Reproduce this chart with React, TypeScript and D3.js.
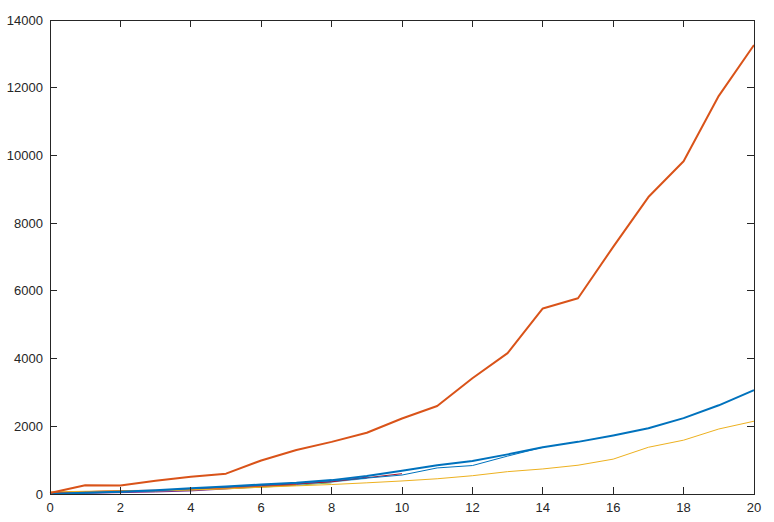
import React from "react";
import * as d3 from "d3";

const xTicks = [0, 2, 4, 6, 8, 10, 12, 14, 16, 18, 20];
const yTicks = [0, 2000, 4000, 6000, 8000, 10000, 12000, 14000];

const seriesBlue = [0, 40, 70, 110, 170, 220, 280, 330, 410, 530, 690, 850, 975, 1170, 1380, 1540, 1730, 1940, 2240, 2620, 3070];
const seriesOrange = [30, 260, 250, 390, 510, 600, 990, 1300, 1540, 1810, 2230, 2600, 3420, 4160, 5480, 5780, 7300, 8770, 9830, 11760, 13260];
const seriesYellow = [60, 80, 90, 100, 120, 150, 200, 240, 280, 330, 385, 450, 540, 660, 740, 850, 1030, 1380, 1590, 1920, 2150];
const seriesBlueThin = [0, 30, 60, 100, 160, 210, 260, 320, 390, 470, 560, 770, 840, 1120, 1380];
const seriesPurple = [10, 20, 40, 60, 90, 150, 220, 290, 370, 500];
const seriesGreen = [30, 50, 70, 80, 110, 160, 200, 260, 330];
const seriesCyan = [20, 60, 80, 90, 130, 190, 230, 280, 350, 460];
const seriesDarkRed = [40, 70, 90, 100, 150, 200, 250, 300, 360, 480, 600];
const seriesOrangeThin = [50, 70, 100, 110, 130, 170, 220, 270];

const series = [
  { values: seriesGreen, color: "#77AC30", width: 1 },
  { values: seriesCyan, color: "#4DBEEE", width: 1 },
  { values: seriesPurple, color: "#7E2F8E", width: 1 },
  { values: seriesDarkRed, color: "#A2142F", width: 1 },
  { values: seriesOrangeThin, color: "#D95319", width: 1 },
  { values: seriesYellow, color: "#EDB120", width: 1 },
  { values: seriesBlueThin, color: "#0072BD", width: 1 },
  { values: seriesBlue, color: "#0072BD", width: 2 },
  { values: seriesOrange, color: "#D95319", width: 2 },
];

const W = 774, H = 522;
const L = 50, R = 754, T = 20, B = 494;

export default function App() {
  const x = d3.scaleLinear().domain([0, 20]).range([L, R]);
  const y = d3.scaleLinear().domain([0, 14000]).range([B, T]);
  const line = d3.line<number>().x((_, i) => x(i)).y((d) => y(d));
  const axisColor = "#262626";
  const font = "'Liberation Sans', Arial, Helvetica, sans-serif";
  return (
    <svg width={W} height={H} style={{ position: "absolute", left: 0, top: 0, background: "#fff" }}>
      <rect x={0} y={0} width={W} height={H} fill="#fff" />
      <g>
        {series.map((s, k) => (
          <path key={k} d={line(s.values) || ""} fill="none" stroke={s.color} strokeWidth={s.width} strokeLinejoin="round" />
        ))}
      </g>
      <rect x={L} y={T} width={R - L} height={B - T} fill="none" stroke={axisColor} strokeWidth={1} shapeRendering="crispEdges" />
      <g stroke={axisColor} strokeWidth={1} shapeRendering="crispEdges">
        {xTicks.map((t) => (
          <g key={"x" + t}>
            <line x1={x(t)} x2={x(t)} y1={B} y2={B - 7} />
            <line x1={x(t)} x2={x(t)} y1={T} y2={T + 7} />
          </g>
        ))}
        {yTicks.map((t) => (
          <g key={"y" + t}>
            <line x1={L} x2={L + 7} y1={y(t)} y2={y(t)} />
            <line x1={R} x2={R - 7} y1={y(t)} y2={y(t)} />
          </g>
        ))}
      </g>
      <g fill={axisColor} fontFamily={font} fontSize={13}>
        {xTicks.map((t) => (
          <text key={"xl" + t} x={x(t)} y={B + 18} textAnchor="middle">{t}</text>
        ))}
        {yTicks.map((t) => (
          <text key={"yl" + t} x={L - 7} y={y(t) + 4.5} textAnchor="end">{t}</text>
        ))}
      </g>
    </svg>
  );
}
